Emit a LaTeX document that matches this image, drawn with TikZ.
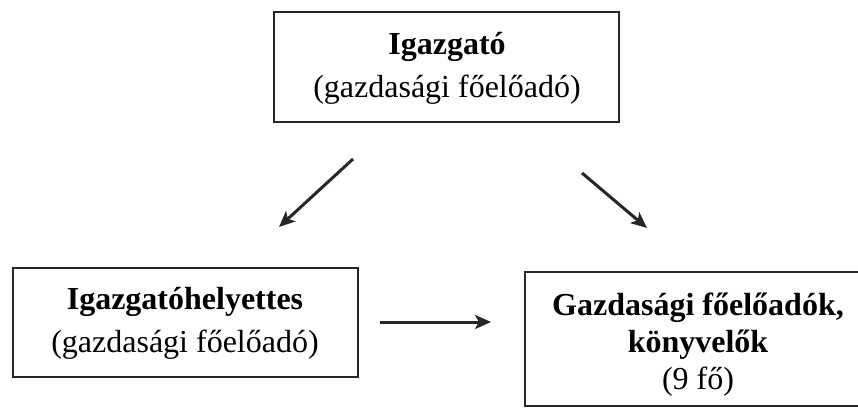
\documentclass[tikz,border=0pt]{standalone}
\usepackage{fontspec}
\setmainfont{Liberation Serif}
\usetikzlibrary{arrows.meta}
\begin{document}
\begin{tikzpicture}[x=1pt,y=-1pt,
  box/.style={draw=black!85, line width=2.2pt, inner sep=0pt, align=center},
  arr/.style={draw=black!85, line width=3pt, -{Stealth[length=16pt,width=14pt,inset=4pt]}},
  txt/.style={font=\fontsize{32}{43}\selectfont, align=center, inner sep=0pt}]
\useasboundingbox (0,0) rectangle (858,408);
\clip (0,0) rectangle (858,408);
% top box
\node[box, minimum width=345, minimum height=110] (top) at (446.5,67) {};
\node[txt, anchor=base] (toptxt) at (447,97) {\textbf{Igazgató}\\(gazdasági főelőadó)};
% left box
\node[box, minimum width=345, minimum height=109] (left) at (185.5,322.5) {};
\node[txt, anchor=base] (lefttxt) at (185,352) {\textbf{Igazgatóhelyettes}\\(gazdasági főelőadó)};
% right box (cut off at the right by the page edge)
\node[box, minimum width=346, minimum height=134] (right) at (698,339) {};
\node[font=\fontsize{32}{37}\selectfont, align=center, inner sep=0pt, anchor=base] (righttxt) at (698,389)
  {\textbf{Gazdasági főelőadók,}\\\textbf{könyvelők}\\(9 fő)};
% arrows
\coordinate (a1s) at (353,159); \coordinate (a1e) at (279,227);
\coordinate (a2s) at (582,173); \coordinate (a2e) at (647,228);
\coordinate (a3s) at (380,322); \coordinate (a3e) at (491,322);
\draw[arr] (a1s) -- (a1e);
\draw[arr] (a2s) -- (a2e);
\draw[arr] (a3s) -- (a3e);
\end{tikzpicture}
\end{document}
